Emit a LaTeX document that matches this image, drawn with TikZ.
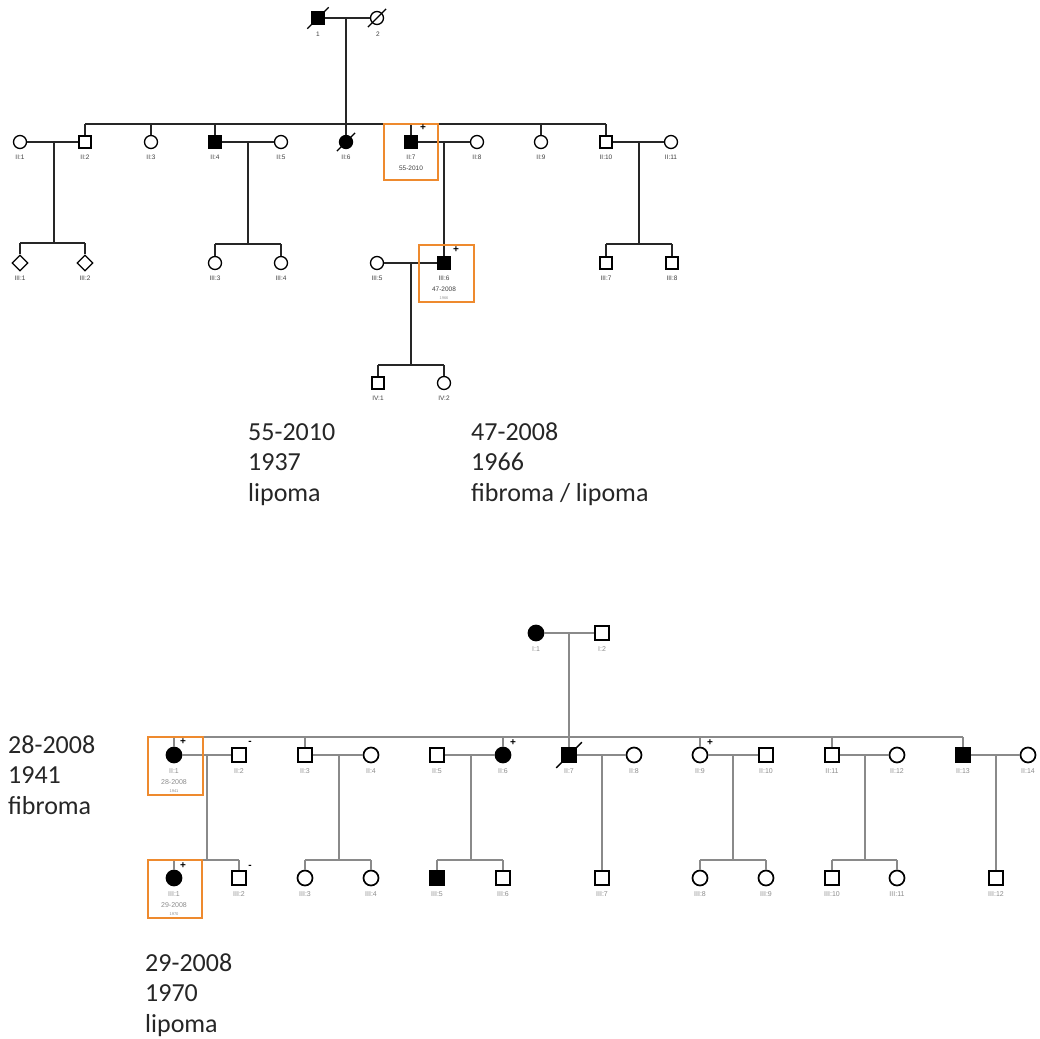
\documentclass[tikz,border=0pt]{standalone}
\usepackage{fontspec}
\setmainfont{Carlito}
\newfontfamily\labfont{Liberation Sans}
\usetikzlibrary{shapes.geometric,calc}
\definecolor{obox}{HTML}{EE8A2E}
\definecolor{bline}{HTML}{8A8A8A}
\tikzset{
  tl/.style={line width=1.3pt, black!85},
  bl/.style={line width=1.1pt, bline},
  tsq/.style={draw, rectangle, minimum size=12, inner sep=0, line width=1.3pt},
  tci/.style={draw, circle, minimum size=13, inner sep=0, line width=1.3pt},
  tdm/.style={draw, diamond, minimum size=16, inner sep=0, line width=1.3pt},
  bsq/.style={draw, rectangle, minimum size=14, inner sep=0, line width=1.7pt},
  bci/.style={draw, circle, minimum size=15, inner sep=0, line width=1.7pt},
  aff/.style={fill=black},
  dec/.style={line width=1.4pt, black},
  tlab/.style={font=\labfont\fontsize{6.5}{7}\selectfont, text=black!75, inner sep=0},
  blab/.style={font=\labfont\fontsize{7}{8}\selectfont, text=black!45, inner sep=0},
  sgn/.style={font=\labfont\bfseries\fontsize{10}{10}\selectfont, inner sep=0},
  ann/.style={font=\fontsize{26}{30.5}\selectfont, text=black!85, align=left, inner sep=0, anchor=base west},
  orb/.style={draw=obox, line width=2.4pt}
}
\begin{document}
\begin{tikzpicture}[x=1pt,y=-1pt]
\useasboundingbox (0,0) rectangle (1039,1039);

% ================= TOP PEDIGREE =================
% Generation I
\node[tsq,aff] (t1) at (318,18) {};
\node[tci] (t2) at (377,18) {};
\node[tlab] (t1l) at (318,34) {1};
\node[tlab] (t2l) at (378,34) {2};
\draw[dec] ($(t1.south west)+(-4,4)$) -- ($(t1.north east)+(4,-4)$);
\draw[dec] ($(t2.south west)+(-4,4)$) -- ($(t2.north east)+(4,-4)$);
\draw[tl] (t1) -- (t2);

% Generation II
\node[tci] (tii1) at (20,142) {};
\node[tsq] (tii2) at (85,142) {};
\node[tci] (tii3) at (151,142) {};
\node[tsq,aff] (tii4) at (215,142) {};
\node[tci] (tii5) at (281,142) {};
\node[tci,aff] (tii6) at (346,142) {};
\node[tsq,aff] (tii7) at (411,142) {};
\node[tci] (tii8) at (477,142) {};
\node[tci] (tii9) at (541,142) {};
\node[tsq] (tii10) at (606,142) {};
\node[tci] (tii11) at (671,142) {};
\draw[dec] ($(tii6.south west)+(-4,4)$) -- ($(tii6.north east)+(4,-4)$);
\foreach \n/\x in {1/20,2/85,3/151,4/215,5/281,6/346,8/477,9/541,10/606,11/671}
  \node[tlab] (tii\n l) at (\x,157) {II:\n};

% parent drop and sibship
\coordinate (t1m) at (346,18);
\coordinate (tsibL) at (85,124);
\coordinate (tsibR) at (606,124);
\draw[tl] (t1m) -- (tii6.north);
\draw[tl] (tsibL) -- (tsibR);
\foreach \n in {2,3,4,7,9,10}
  \draw[tl] (tii\n.north) -- (tii\n.north |- tsibL);

% marriages gen II
\draw[tl] (tii1) -- (tii2);
\draw[tl] (tii4) -- (tii5);
\draw[tl] (tii7) -- (tii8);
\draw[tl] (tii10) -- (tii11);

% Generation III
\node[tdm] (tiii1) at (20,263) {};
\node[tdm] (tiii2) at (85,263) {};
\node[tci] (tiii3) at (215,263) {};
\node[tci] (tiii4) at (281,263) {};
\node[tci] (tiii5) at (377,263) {};
\node[tsq,aff] (tiii6) at (444,263) {};
\node[tsq] (tiii7) at (606,263) {};
\node[tsq] (tiii8) at (672,263) {};
\foreach \n/\x in {1/20,2/85,3/215,4/281,5/377,7/606,8/672}
  \node[tlab] (tiii\n l) at (\x,278) {III:\n};

% sibships gen III
\coordinate (ta) at (54,142);
\coordinate (tas) at (54,243);
\draw[tl] (ta) -- (tas);
\draw[tl] (tiii1.north |- tas) -- (tiii2.north |- tas);
\draw[tl] (tiii1.north) -- (tiii1.north |- tas);
\draw[tl] (tiii2.north) -- (tiii2.north |- tas);

\coordinate (tb) at (248,142);
\coordinate (tbs) at (248,244);
\draw[tl] (tb) -- (tbs);
\draw[tl] (tiii3.north |- tbs) -- (tiii4.north |- tbs);
\draw[tl] (tiii3.north) -- (tiii3.north |- tbs);
\draw[tl] (tiii4.north) -- (tiii4.north |- tbs);

\coordinate (tc) at (444,142);
\draw[tl] (tc) -- (tiii6.north);

\coordinate (td) at (639,142);
\coordinate (tds) at (639,244);
\draw[tl] (td) -- (tds);
\draw[tl] (tiii7.north |- tds) -- (tiii8.north |- tds);
\draw[tl] (tiii7.north) -- (tiii7.north |- tds);
\draw[tl] (tiii8.north) -- (tiii8.north |- tds);

% marriage gen III and gen IV
\draw[tl] (tiii5) -- (tiii6);
\node[tsq] (tiv1) at (378,383) {};
\node[tci] (tiv2) at (444,383) {};
\node[tlab] (tiv1l) at (378,398) {IV:1};
\node[tlab] (tiv2l) at (444,398) {IV:2};
\coordinate (te) at (411,263);
\coordinate (tes) at (411,365);
\draw[tl] (te) -- (tes);
\draw[tl] (tiv1.north |- tes) -- (tiv2.north |- tes);
\draw[tl] (tiv1.north) -- (tiv1.north |- tes);
\draw[tl] (tiv2.north) -- (tiv2.north |- tes);

% proband boxes top
\draw[orb] (384,124) rectangle (438,180);
\node[tlab] (tii7l) at (411,157) {II:7};
\node[tlab] (tii7d) at (411,168) {55-2010};
\node[sgn] (tii7s) at (423,128) {+};
\draw[orb] (419,245) rectangle (474,302);
\node[tlab] (tiii6l) at (444,278) {III:6};
\node[tlab] (tiii6d) at (444,289) {47-2008};
\node[tlab, text=black!40, font=\labfont\fontsize{4}{4}\selectfont] (tiii6y) at (444,298) {1966};
\node[sgn] (tiii6s) at (456,250) {+};

% annotations top (anchor = baseline of last line)
\node[ann] (annA) at (248,501) {55-2010\\1937\\lipoma};
\node[ann] (annB) at (471,501) {47-2008\\1966\\fibroma / lipoma};

% ================= BOTTOM PEDIGREE =================
\node[bci,aff] (bi1) at (536,633) {};
\node[bsq] (bi2) at (602,633) {};
\node[blab] (bi1l) at (536,649) {I:1};
\node[blab] (bi2l) at (602,649) {I:2};
\draw[bl] (bi1) -- (bi2);

\node[bci,aff] (bii1) at (174,755) {};
\node[bsq] (bii2) at (239,755) {};
\node[bsq] (bii3) at (305,755) {};
\node[bci] (bii4) at (371,755) {};
\node[bsq] (bii5) at (437,755) {};
\node[bci,aff] (bii6) at (503,755) {};
\node[bsq,aff] (bii7) at (569,755) {};
\node[bci] (bii8) at (634,755) {};
\node[bci] (bii9) at (700,755) {};
\node[bsq] (bii10) at (766,755) {};
\node[bsq] (bii11) at (832,755) {};
\node[bci] (bii12) at (897,755) {};
\node[bsq,aff] (bii13) at (963,755) {};
\node[bci] (bii14) at (1028,755) {};
\draw[dec] ($(bii7.south west)+(-5,5)$) -- ($(bii7.north east)+(5,-5)$);
\foreach \n/\x in {1/174,2/239,3/305,4/371,5/437,6/503,7/569,8/634,9/700,10/766,11/832,12/897,13/963,14/1028}
  \node[blab] (bii\n l) at (\x,771) {II:\n};

\coordinate (bim) at (569,633);
\draw[bl] (bim) -- (bii7.north);
\coordinate (bsibL) at (174,737);
\coordinate (bsibR) at (963,737);
\draw[bl] (bsibL) -- (bsibR);
\foreach \n in {1,3,6,9,11,13}
  \draw[bl] (bii\n.north) -- (bii\n.north |- bsibL);

\foreach \a/\b in {1/2,3/4,5/6,7/8,9/10,11/12,13/14}
  \draw[bl] (bii\a) -- (bii\b);

\node[bci,aff] (biii1) at (174,878) {};
\node[bsq] (biii2) at (239,878) {};
\node[bci] (biii3) at (305,878) {};
\node[bci] (biii4) at (371,878) {};
\node[bsq,aff] (biii5) at (437,878) {};
\node[bsq] (biii6) at (503,878) {};
\node[bsq] (biii7) at (602,878) {};
\node[bci] (biii8) at (700,878) {};
\node[bci] (biii9) at (766,878) {};
\node[bsq] (biii10) at (832,878) {};
\node[bci] (biii11) at (897,878) {};
\node[bsq] (biii12) at (996,878) {};
\foreach \n/\x in {1/174,2/239,3/305,4/371,5/437,6/503,7/602,8/700,9/766,10/832,11/897,12/996}
  \node[blab] (biii\n l) at (\x,894) {III:\n};

% sibships gen III bottom
\foreach \m/\a/\b in {207/1/2,339/3/4,471/5/6,733/8/9,865/10/11}{
  \coordinate (bt\m) at (\m,755);
  \coordinate (bs\m) at (\m,860);
  \draw[bl] (bt\m) -- (bs\m);
  \draw[bl] (biii\a.north |- bs\m) -- (biii\b.north |- bs\m);
  \draw[bl] (biii\a.north) -- (biii\a.north |- bs\m);
  \draw[bl] (biii\b.north) -- (biii\b.north |- bs\m);
}
\coordinate (bt602) at (602,755);
\draw[bl] (bt602) -- (biii7.north);
\coordinate (bt996) at (996,755);
\draw[bl] (bt996) -- (biii12.north);

% signs
\node[sgn] (bs1) at (183,742) {+};
\node[sgn] (bs2) at (250,743) {-};
\node[sgn] (bs6) at (513,743) {+};
\node[sgn] (bs9) at (710,743) {+};
\node[sgn] (bs3) at (183,866) {+};
\node[sgn] (bs4) at (250,867) {-};

% proband boxes bottom
\draw[orb] (148,737) rectangle (203,795);
\node[blab] (bii1d) at (174,782) {28-2008};
\node[blab, font=\labfont\fontsize{4}{4}\selectfont] (bii1y) at (174,791) {1941};
\draw[orb] (148,860) rectangle (202,918);
\node[blab] (biii1d) at (174,905) {29-2008};
\node[blab, font=\labfont\fontsize{4}{4}\selectfont] (biii1y) at (174,914) {1970};

% annotations bottom (anchor = baseline of last line)
\node[ann] (annC) at (8,814) {28-2008\\1941\\fibroma};
\node[ann] (annD) at (145,1032) {29-2008\\1970\\lipoma};
\end{tikzpicture}
\end{document}
